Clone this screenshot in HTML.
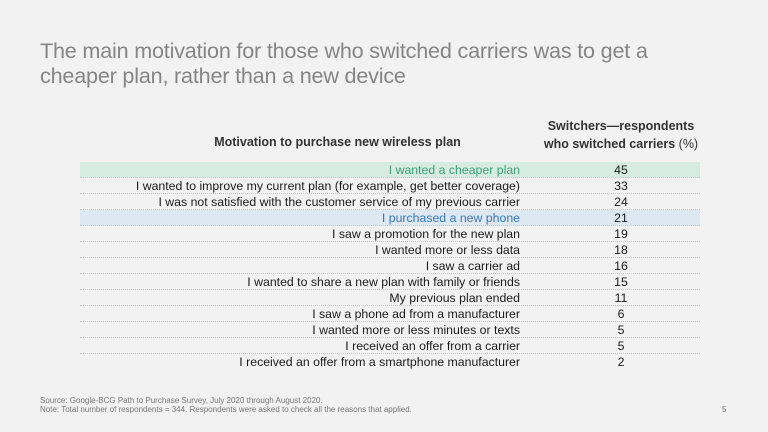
<!DOCTYPE html>
<html><head><style>
body{margin:0;width:768px;height:432px;background:#f2f2f2;font-family:"Liberation Sans",sans-serif;position:relative;overflow:hidden}
.t{position:absolute;left:40px;top:38px;font-size:21.6px;line-height:25px;color:#858585;letter-spacing:-0.2px}
.h1{position:absolute;left:150px;width:375px;text-align:center;top:135px;font-size:12.5px;font-weight:bold;color:#333}
.h2{position:absolute;left:530px;width:182px;text-align:center;top:117px;font-size:12.5px;font-weight:bold;color:#333;line-height:18px}
.row{position:absolute;left:80px;width:620px;height:16px;border-bottom:1px dotted #c8c8c8;box-sizing:border-box;font-size:12.3px;line-height:16px;color:#1a1a1a}
.row .l{position:absolute;right:180px;white-space:nowrap}
.row .v{position:absolute;left:526px;width:30px;text-align:center}
.f{position:absolute;left:40px;font-size:8px;color:#777}
</style></head><body>
<div class="t">The main motivation for those who switched carriers was to get a<br>cheaper plan, rather than a new device</div>
<div class="h1">Motivation to purchase new wireless plan</div>
<div class="h2">Switchers—respondents<br>who switched carriers <span style="font-weight:normal">(%)</span></div>
<div class="row" style="top:162px;background:#d6ebe1"><span class="l" style="color:#3fa07a">I wanted a cheaper plan</span><span class="v">45</span></div>
<div class="row" style="top:178px"><span class="l">I wanted to improve my current plan (for example, get better coverage)</span><span class="v">33</span></div>
<div class="row" style="top:194px"><span class="l">I was not satisfied with the customer service of my previous carrier</span><span class="v">24</span></div>
<div class="row" style="top:210px;background:#dde8f3"><span class="l" style="color:#3a78b5">I purchased a new phone</span><span class="v">21</span></div>
<div class="row" style="top:226px"><span class="l">I saw a promotion for the new plan</span><span class="v">19</span></div>
<div class="row" style="top:242px"><span class="l">I wanted more or less data</span><span class="v">18</span></div>
<div class="row" style="top:258px"><span class="l">I saw a carrier ad</span><span class="v">16</span></div>
<div class="row" style="top:274px"><span class="l">I wanted to share a new plan with family or friends</span><span class="v">15</span></div>
<div class="row" style="top:290px"><span class="l">My previous plan ended</span><span class="v">11</span></div>
<div class="row" style="top:306px"><span class="l">I saw a phone ad from a manufacturer</span><span class="v">6</span></div>
<div class="row" style="top:322px"><span class="l">I wanted more or less minutes or texts</span><span class="v">5</span></div>
<div class="row" style="top:338px"><span class="l">I received an offer from a carrier</span><span class="v">5</span></div>
<div class="row" style="top:354px;border-bottom:none"><span class="l">I received an offer from a smartphone manufacturer</span><span class="v">2</span></div>
<div class="f" style="top:396px">Source: Google-BCG Path to Purchase Survey, July 2020 through August 2020.</div>
<div class="f" style="top:405px">Note: Total number of respondents = 344. Respondents were asked to check all the reasons that applied.</div>
<div class="f" style="top:405px;left:722px">5</div>
</body></html>
